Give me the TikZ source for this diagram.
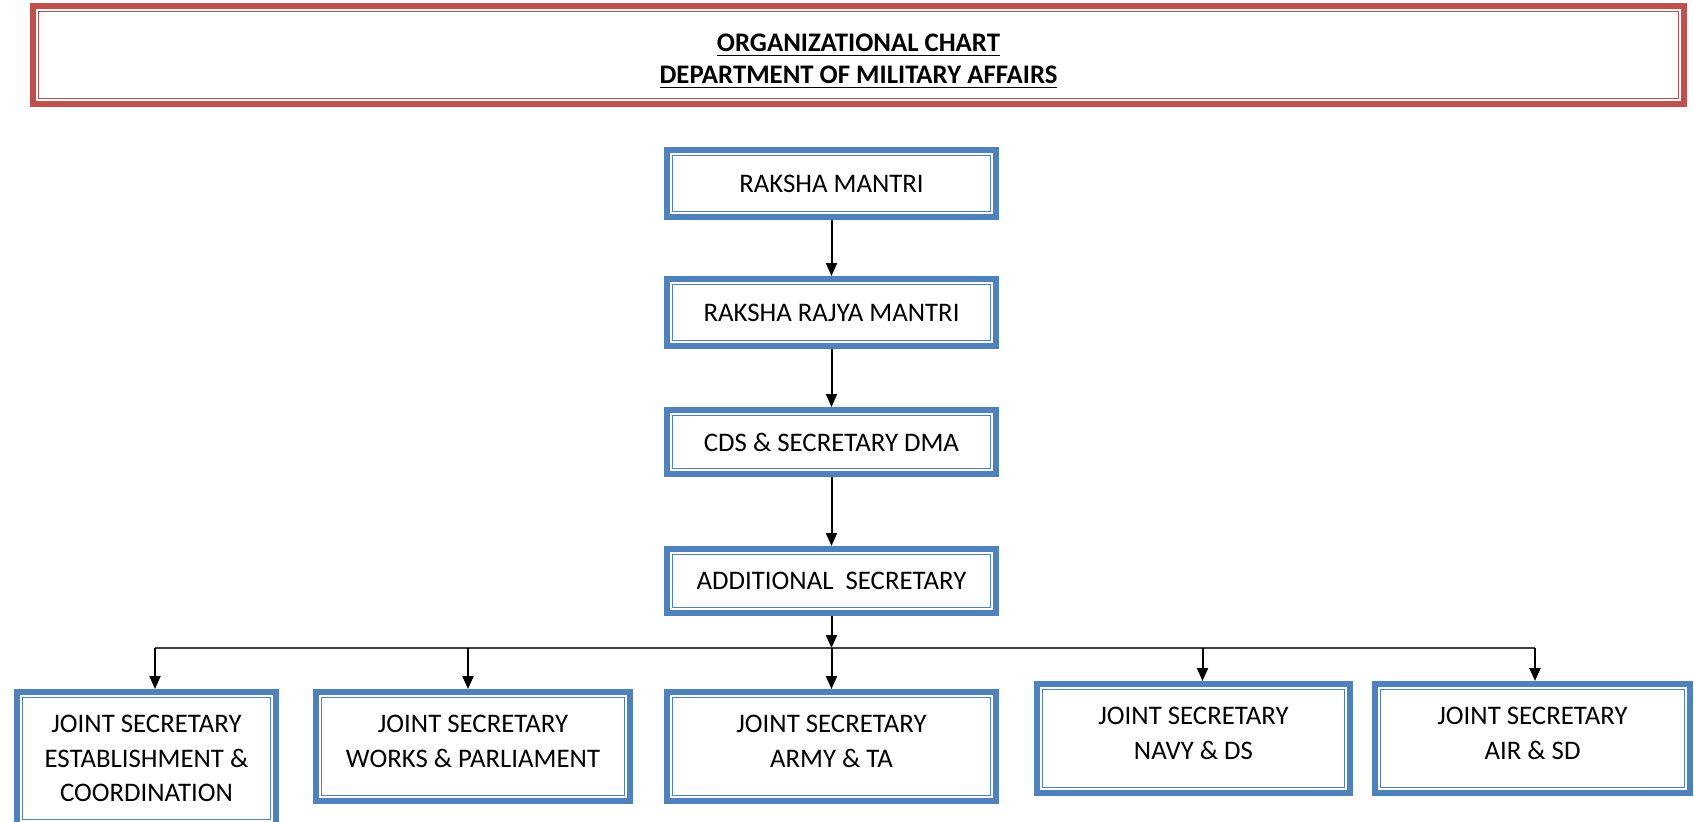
\documentclass[tikz,border=0pt]{standalone}
\usepackage{fontspec}
\setmainfont{Carlito}
\usetikzlibrary{arrows.meta,positioning}

\definecolor{dmablue}{HTML}{4F81BD}
\definecolor{dmared}{HTML}{C0504D}

\begin{document}
\begin{tikzpicture}[
  node distance=28pt,
  every node/.style={font=\fontsize{13.4pt}{17.3pt}\selectfont},
  dmabox/.style={
    rectangle,
    draw=#1,
    line width=3pt,
    fill=white,
    align=center,
    inner sep=0pt,
    path picture={
      \draw[#1, line width=0.85pt]
        ([shift={(2.75pt,2.75pt)}]path picture bounding box.south west)
        rectangle ([shift={(-2.75pt,-2.75pt)}]path picture bounding box.north east);
    }
  },
  postbox/.style={dmabox=dmablue, minimum width=164.5pt, minimum height=33.5pt},
  jsbox/.style={postbox, minimum height=54.5pt, text depth=5pt},
  link/.style={-{Triangle[length=6.5pt, width=5.5pt]}, line width=1pt, black},
  busline/.style={line width=0.7pt, black!75}
]
\useasboundingbox (0,0) rectangle (847pt,-410.5pt);

\node[dmabox=dmared, minimum width=825.5pt, minimum height=49pt, text height=31pt,
      font=\bfseries\fontsize{13.4pt}{16pt}\selectfont] (title) at (429.25pt,-27.5pt)
      {\underline{ORGANIZATIONAL CHART}\\\underline{DEPARTMENT OF MILITARY AFFAIRS}};

\node[postbox] (rm) at (415.75pt,-91.75pt) {RAKSHA MANTRI};
\node[postbox, below=of rm] (rrm) {RAKSHA RAJYA MANTRI};
\node[postbox, minimum height=32pt, below=29pt of rrm] (cds) {CDS \& SECRETARY DMA};
\node[postbox, minimum height=32pt, below=34.5pt of cds] (as) {ADDITIONAL~~SECRETARY};

\node[jsbox, below=36.5pt of as] (jsarmy) {JOINT SECRETARY\\ARMY \& TA};
\node[jsbox, minimum width=157pt, left=15.5pt of jsarmy] (jsworks) {JOINT SECRETARY\\WORKS \& PARLIAMENT};
\node[postbox, minimum width=129.5pt, minimum height=66.5pt, left=17pt of jsworks.north west, anchor=north east] (jsestt) {JOINT SECRETARY\\ESTABLISHMENT \&\\COORDINATION};
\node[jsbox, minimum width=156.5pt, right=17.5pt of jsarmy, yshift=4pt] (jsnavy) {JOINT SECRETARY\\NAVY \& DS};
\node[jsbox, minimum width=157.5pt, right=9.5pt of jsnavy] (jsair) {JOINT SECRETARY\\AIR \& SD};

% branch points on the bus
\coordinate (bus) at ([yshift=-16pt]as.south);
\coordinate[xshift=4.25pt] (t1) at (jsestt.north |- bus);
\coordinate[xshift=-2.5pt] (t2) at (jsworks.north |- bus);
\coordinate[xshift=4.5pt] (t4) at (jsnavy.north |- bus);
\coordinate[xshift=1.25pt] (t5) at (jsair.north |- bus);

\draw[link] (rm) -- (rrm);
\draw[link] (rrm) -- (cds);
\draw[link] (cds) -- (as);
\draw[link] (as) -- (bus);
\draw[busline] (t1) -- (t5);
\draw[link] (bus) -- (jsarmy);
\draw[link] (t1) -- (t1 |- jsestt.north);
\draw[link] (t2) -- (t2 |- jsworks.north);
\draw[link] (t4) -- (t4 |- jsnavy.north);
\draw[link] (t5) -- (t5 |- jsair.north);
\end{tikzpicture}
\end{document}
